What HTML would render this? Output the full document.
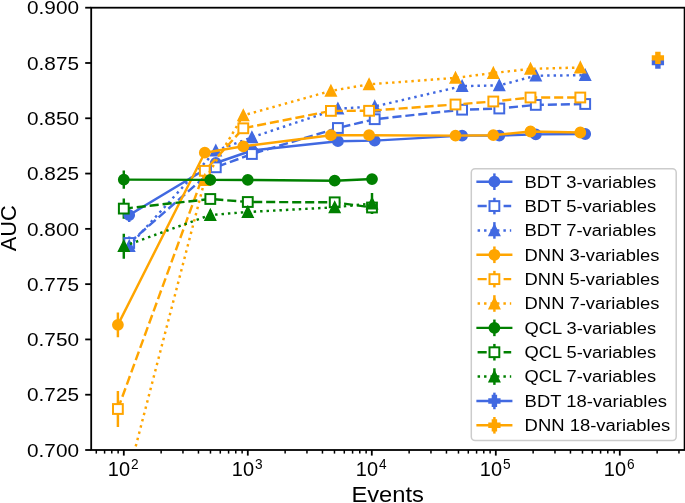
<!DOCTYPE html><html><head><meta charset="utf-8"><style>html,body{margin:0;padding:0;background:#fff;width:685px;height:503px;overflow:hidden}</style></head><body><svg width="685" height="503" viewBox="0 0 685 503" style="display:block;will-change:transform">
<rect width="685" height="503" fill="#fff"/>
<defs><clipPath id="ax"><rect x="91.2" y="7.7" width="593.4" height="442.3"/></clipPath></defs>
<g clip-path="url(#ax)">
<line x1="129.20" y1="208.10" x2="129.20" y2="222.10" stroke="#4169e1" stroke-width="2.45"/>
<line x1="215.80" y1="161.00" x2="215.80" y2="165.00" stroke="#4169e1" stroke-width="2.45"/>
<line x1="251.90" y1="148.50" x2="251.90" y2="152.50" stroke="#4169e1" stroke-width="2.45"/>
<line x1="337.90" y1="139.70" x2="337.90" y2="142.70" stroke="#4169e1" stroke-width="2.45"/>
<line x1="374.70" y1="139.10" x2="374.70" y2="142.10" stroke="#4169e1" stroke-width="2.45"/>
<line x1="462.10" y1="134.60" x2="462.10" y2="136.60" stroke="#4169e1" stroke-width="2.45"/>
<line x1="499.30" y1="134.60" x2="499.30" y2="136.60" stroke="#4169e1" stroke-width="2.45"/>
<line x1="535.80" y1="133.40" x2="535.80" y2="135.40" stroke="#4169e1" stroke-width="2.45"/>
<line x1="585.20" y1="133.00" x2="585.20" y2="135.00" stroke="#4169e1" stroke-width="2.45"/>
<line x1="129.20" y1="236.40" x2="129.20" y2="249.60" stroke="#4169e1" stroke-width="2.45"/>
<line x1="215.80" y1="165.30" x2="215.80" y2="169.30" stroke="#4169e1" stroke-width="2.45"/>
<line x1="251.90" y1="152.00" x2="251.90" y2="156.00" stroke="#4169e1" stroke-width="2.45"/>
<line x1="337.90" y1="126.50" x2="337.90" y2="129.50" stroke="#4169e1" stroke-width="2.45"/>
<line x1="374.70" y1="117.70" x2="374.70" y2="120.70" stroke="#4169e1" stroke-width="2.45"/>
<line x1="462.10" y1="108.70" x2="462.10" y2="110.70" stroke="#4169e1" stroke-width="2.45"/>
<line x1="499.30" y1="107.50" x2="499.30" y2="109.50" stroke="#4169e1" stroke-width="2.45"/>
<line x1="535.80" y1="103.90" x2="535.80" y2="105.90" stroke="#4169e1" stroke-width="2.45"/>
<line x1="585.20" y1="103.00" x2="585.20" y2="105.00" stroke="#4169e1" stroke-width="2.45"/>
<line x1="129.20" y1="240.00" x2="129.20" y2="252.00" stroke="#4169e1" stroke-width="2.45"/>
<line x1="215.80" y1="148.70" x2="215.80" y2="152.70" stroke="#4169e1" stroke-width="2.45"/>
<line x1="251.90" y1="135.30" x2="251.90" y2="139.30" stroke="#4169e1" stroke-width="2.45"/>
<line x1="337.90" y1="107.20" x2="337.90" y2="110.20" stroke="#4169e1" stroke-width="2.45"/>
<line x1="374.70" y1="105.00" x2="374.70" y2="108.00" stroke="#4169e1" stroke-width="2.45"/>
<line x1="462.10" y1="85.10" x2="462.10" y2="87.10" stroke="#4169e1" stroke-width="2.45"/>
<line x1="499.30" y1="84.40" x2="499.30" y2="86.40" stroke="#4169e1" stroke-width="2.45"/>
<line x1="535.80" y1="74.70" x2="535.80" y2="76.70" stroke="#4169e1" stroke-width="2.45"/>
<line x1="585.20" y1="74.20" x2="585.20" y2="76.20" stroke="#4169e1" stroke-width="2.45"/>
<line x1="117.90" y1="312.40" x2="117.90" y2="337.20" stroke="#ffa500" stroke-width="2.45"/>
<line x1="204.80" y1="150.70" x2="204.80" y2="154.70" stroke="#ffa500" stroke-width="2.45"/>
<line x1="243.30" y1="144.30" x2="243.30" y2="148.30" stroke="#ffa500" stroke-width="2.45"/>
<line x1="330.90" y1="133.70" x2="330.90" y2="136.70" stroke="#ffa500" stroke-width="2.45"/>
<line x1="369.10" y1="133.70" x2="369.10" y2="136.70" stroke="#ffa500" stroke-width="2.45"/>
<line x1="455.50" y1="134.60" x2="455.50" y2="136.60" stroke="#ffa500" stroke-width="2.45"/>
<line x1="493.30" y1="134.20" x2="493.30" y2="136.20" stroke="#ffa500" stroke-width="2.45"/>
<line x1="530.50" y1="130.50" x2="530.50" y2="132.50" stroke="#ffa500" stroke-width="2.45"/>
<line x1="580.30" y1="131.50" x2="580.30" y2="133.50" stroke="#ffa500" stroke-width="2.45"/>
<line x1="117.90" y1="391.00" x2="117.90" y2="427.00" stroke="#ffa500" stroke-width="2.45"/>
<line x1="204.80" y1="168.80" x2="204.80" y2="172.80" stroke="#ffa500" stroke-width="2.45"/>
<line x1="243.30" y1="126.30" x2="243.30" y2="130.30" stroke="#ffa500" stroke-width="2.45"/>
<line x1="330.90" y1="109.40" x2="330.90" y2="112.40" stroke="#ffa500" stroke-width="2.45"/>
<line x1="369.10" y1="109.30" x2="369.10" y2="112.30" stroke="#ffa500" stroke-width="2.45"/>
<line x1="455.50" y1="103.50" x2="455.50" y2="105.50" stroke="#ffa500" stroke-width="2.45"/>
<line x1="493.30" y1="100.50" x2="493.30" y2="102.50" stroke="#ffa500" stroke-width="2.45"/>
<line x1="530.50" y1="96.50" x2="530.50" y2="98.50" stroke="#ffa500" stroke-width="2.45"/>
<line x1="580.30" y1="96.50" x2="580.30" y2="98.50" stroke="#ffa500" stroke-width="2.45"/>
<line x1="117.90" y1="503.00" x2="117.90" y2="527.00" stroke="#ffa500" stroke-width="2.45"/>
<line x1="204.80" y1="178.00" x2="204.80" y2="182.00" stroke="#ffa500" stroke-width="2.45"/>
<line x1="243.30" y1="113.40" x2="243.30" y2="117.40" stroke="#ffa500" stroke-width="2.45"/>
<line x1="330.90" y1="89.40" x2="330.90" y2="92.40" stroke="#ffa500" stroke-width="2.45"/>
<line x1="369.10" y1="82.80" x2="369.10" y2="85.80" stroke="#ffa500" stroke-width="2.45"/>
<line x1="455.50" y1="76.90" x2="455.50" y2="78.90" stroke="#ffa500" stroke-width="2.45"/>
<line x1="493.30" y1="72.00" x2="493.30" y2="74.00" stroke="#ffa500" stroke-width="2.45"/>
<line x1="530.50" y1="67.90" x2="530.50" y2="69.90" stroke="#ffa500" stroke-width="2.45"/>
<line x1="580.30" y1="66.50" x2="580.30" y2="68.50" stroke="#ffa500" stroke-width="2.45"/>
<line x1="123.80" y1="170.50" x2="123.80" y2="188.70" stroke="#008000" stroke-width="2.45"/>
<line x1="210.30" y1="177.90" x2="210.30" y2="181.90" stroke="#008000" stroke-width="2.45"/>
<line x1="247.80" y1="177.90" x2="247.80" y2="181.90" stroke="#008000" stroke-width="2.45"/>
<line x1="334.70" y1="178.70" x2="334.70" y2="182.70" stroke="#008000" stroke-width="2.45"/>
<line x1="372.00" y1="177.10" x2="372.00" y2="181.10" stroke="#008000" stroke-width="2.45"/>
<line x1="123.80" y1="198.40" x2="123.80" y2="218.80" stroke="#008000" stroke-width="2.45"/>
<line x1="210.30" y1="196.00" x2="210.30" y2="202.00" stroke="#008000" stroke-width="2.45"/>
<line x1="247.80" y1="199.00" x2="247.80" y2="205.00" stroke="#008000" stroke-width="2.45"/>
<line x1="334.70" y1="199.30" x2="334.70" y2="205.30" stroke="#008000" stroke-width="2.45"/>
<line x1="372.00" y1="201.50" x2="372.00" y2="213.50" stroke="#008000" stroke-width="2.45"/>
<line x1="123.80" y1="233.70" x2="123.80" y2="258.70" stroke="#008000" stroke-width="2.45"/>
<line x1="210.30" y1="210.00" x2="210.30" y2="220.00" stroke="#008000" stroke-width="2.45"/>
<line x1="247.80" y1="206.00" x2="247.80" y2="218.00" stroke="#008000" stroke-width="2.45"/>
<line x1="334.70" y1="202.30" x2="334.70" y2="212.30" stroke="#008000" stroke-width="2.45"/>
<line x1="372.00" y1="193.00" x2="372.00" y2="214.00" stroke="#008000" stroke-width="2.45"/>
<line x1="657.90" y1="61.10" x2="657.90" y2="64.10" stroke="#4169e1" stroke-width="2.45"/>
<line x1="657.90" y1="56.40" x2="657.90" y2="59.40" stroke="#ffa500" stroke-width="2.45"/>
<polyline points="129.20,215.10 215.80,163.00 251.90,150.50 337.90,141.20 374.70,140.60 462.10,135.60 499.30,135.60 535.80,134.40 585.20,134.00" fill="none" stroke="#4169e1" stroke-width="2.45" stroke-linejoin="round" stroke-linecap="square"/>
<circle cx="129.20" cy="215.10" r="4.90" fill="#4169e1" stroke="#4169e1" stroke-width="2.0"/>
<circle cx="215.80" cy="163.00" r="4.90" fill="#4169e1" stroke="#4169e1" stroke-width="2.0"/>
<circle cx="251.90" cy="150.50" r="4.90" fill="#4169e1" stroke="#4169e1" stroke-width="2.0"/>
<circle cx="337.90" cy="141.20" r="4.90" fill="#4169e1" stroke="#4169e1" stroke-width="2.0"/>
<circle cx="374.70" cy="140.60" r="4.90" fill="#4169e1" stroke="#4169e1" stroke-width="2.0"/>
<circle cx="462.10" cy="135.60" r="4.90" fill="#4169e1" stroke="#4169e1" stroke-width="2.0"/>
<circle cx="499.30" cy="135.60" r="4.90" fill="#4169e1" stroke="#4169e1" stroke-width="2.0"/>
<circle cx="535.80" cy="134.40" r="4.90" fill="#4169e1" stroke="#4169e1" stroke-width="2.0"/>
<circle cx="585.20" cy="134.00" r="4.90" fill="#4169e1" stroke="#4169e1" stroke-width="2.0"/>
<polyline points="129.20,243.00 215.80,167.30 251.90,154.00 337.90,128.00 374.70,119.20 462.10,109.70 499.30,108.50 535.80,104.90 585.20,104.00" fill="none" stroke="#4169e1" stroke-width="2.45" stroke-linejoin="round" stroke-dasharray="9.1,3.9" stroke-linecap="butt"/>
<rect x="124.30" y="238.10" width="9.80" height="9.80" fill="#fff" stroke="#4169e1" stroke-width="2.0"/>
<rect x="210.90" y="162.40" width="9.80" height="9.80" fill="#fff" stroke="#4169e1" stroke-width="2.0"/>
<rect x="247.00" y="149.10" width="9.80" height="9.80" fill="#fff" stroke="#4169e1" stroke-width="2.0"/>
<rect x="333.00" y="123.10" width="9.80" height="9.80" fill="#fff" stroke="#4169e1" stroke-width="2.0"/>
<rect x="369.80" y="114.30" width="9.80" height="9.80" fill="#fff" stroke="#4169e1" stroke-width="2.0"/>
<rect x="457.20" y="104.80" width="9.80" height="9.80" fill="#fff" stroke="#4169e1" stroke-width="2.0"/>
<rect x="494.40" y="103.60" width="9.80" height="9.80" fill="#fff" stroke="#4169e1" stroke-width="2.0"/>
<rect x="530.90" y="100.00" width="9.80" height="9.80" fill="#fff" stroke="#4169e1" stroke-width="2.0"/>
<rect x="580.30" y="99.10" width="9.80" height="9.80" fill="#fff" stroke="#4169e1" stroke-width="2.0"/>
<polyline points="129.20,246.00 215.80,150.70 251.90,137.30 337.90,108.70 374.70,106.50 462.10,86.10 499.30,85.40 535.80,75.70 585.20,75.20" fill="none" stroke="#4169e1" stroke-width="2.45" stroke-linejoin="round" stroke-dasharray="2.45,4.0" stroke-linecap="butt"/>
<path d="M129.20,241.10L124.30,250.90L134.10,250.90Z" fill="#4169e1" stroke="#4169e1" stroke-width="2.0" stroke-linejoin="miter"/>
<path d="M215.80,145.80L210.90,155.60L220.70,155.60Z" fill="#4169e1" stroke="#4169e1" stroke-width="2.0" stroke-linejoin="miter"/>
<path d="M251.90,132.40L247.00,142.20L256.80,142.20Z" fill="#4169e1" stroke="#4169e1" stroke-width="2.0" stroke-linejoin="miter"/>
<path d="M337.90,103.80L333.00,113.60L342.80,113.60Z" fill="#4169e1" stroke="#4169e1" stroke-width="2.0" stroke-linejoin="miter"/>
<path d="M374.70,101.60L369.80,111.40L379.60,111.40Z" fill="#4169e1" stroke="#4169e1" stroke-width="2.0" stroke-linejoin="miter"/>
<path d="M462.10,81.20L457.20,91.00L467.00,91.00Z" fill="#4169e1" stroke="#4169e1" stroke-width="2.0" stroke-linejoin="miter"/>
<path d="M499.30,80.50L494.40,90.30L504.20,90.30Z" fill="#4169e1" stroke="#4169e1" stroke-width="2.0" stroke-linejoin="miter"/>
<path d="M535.80,70.80L530.90,80.60L540.70,80.60Z" fill="#4169e1" stroke="#4169e1" stroke-width="2.0" stroke-linejoin="miter"/>
<path d="M585.20,70.30L580.30,80.10L590.10,80.10Z" fill="#4169e1" stroke="#4169e1" stroke-width="2.0" stroke-linejoin="miter"/>
<polyline points="117.90,324.80 204.80,152.70 243.30,146.30 330.90,135.20 369.10,135.20 455.50,135.60 493.30,135.20 530.50,131.50 580.30,132.50" fill="none" stroke="#ffa500" stroke-width="2.45" stroke-linejoin="round" stroke-linecap="square"/>
<circle cx="117.90" cy="324.80" r="4.90" fill="#ffa500" stroke="#ffa500" stroke-width="2.0"/>
<circle cx="204.80" cy="152.70" r="4.90" fill="#ffa500" stroke="#ffa500" stroke-width="2.0"/>
<circle cx="243.30" cy="146.30" r="4.90" fill="#ffa500" stroke="#ffa500" stroke-width="2.0"/>
<circle cx="330.90" cy="135.20" r="4.90" fill="#ffa500" stroke="#ffa500" stroke-width="2.0"/>
<circle cx="369.10" cy="135.20" r="4.90" fill="#ffa500" stroke="#ffa500" stroke-width="2.0"/>
<circle cx="455.50" cy="135.60" r="4.90" fill="#ffa500" stroke="#ffa500" stroke-width="2.0"/>
<circle cx="493.30" cy="135.20" r="4.90" fill="#ffa500" stroke="#ffa500" stroke-width="2.0"/>
<circle cx="530.50" cy="131.50" r="4.90" fill="#ffa500" stroke="#ffa500" stroke-width="2.0"/>
<circle cx="580.30" cy="132.50" r="4.90" fill="#ffa500" stroke="#ffa500" stroke-width="2.0"/>
<polyline points="117.90,409.00 204.80,170.80 243.30,128.30 330.90,110.90 369.10,110.80 455.50,104.50 493.30,101.50 530.50,97.50 580.30,97.50" fill="none" stroke="#ffa500" stroke-width="2.45" stroke-linejoin="round" stroke-dasharray="9.1,3.9" stroke-linecap="butt"/>
<rect x="113.00" y="404.10" width="9.80" height="9.80" fill="#fff" stroke="#ffa500" stroke-width="2.0"/>
<rect x="199.90" y="165.90" width="9.80" height="9.80" fill="#fff" stroke="#ffa500" stroke-width="2.0"/>
<rect x="238.40" y="123.40" width="9.80" height="9.80" fill="#fff" stroke="#ffa500" stroke-width="2.0"/>
<rect x="326.00" y="106.00" width="9.80" height="9.80" fill="#fff" stroke="#ffa500" stroke-width="2.0"/>
<rect x="364.20" y="105.90" width="9.80" height="9.80" fill="#fff" stroke="#ffa500" stroke-width="2.0"/>
<rect x="450.60" y="99.60" width="9.80" height="9.80" fill="#fff" stroke="#ffa500" stroke-width="2.0"/>
<rect x="488.40" y="96.60" width="9.80" height="9.80" fill="#fff" stroke="#ffa500" stroke-width="2.0"/>
<rect x="525.60" y="92.60" width="9.80" height="9.80" fill="#fff" stroke="#ffa500" stroke-width="2.0"/>
<rect x="575.40" y="92.60" width="9.80" height="9.80" fill="#fff" stroke="#ffa500" stroke-width="2.0"/>
<polyline points="117.90,515.00 204.80,180.00 243.30,115.40 330.90,90.90 369.10,84.30 455.50,77.90 493.30,73.00 530.50,68.90 580.30,67.50" fill="none" stroke="#ffa500" stroke-width="2.45" stroke-linejoin="round" stroke-dasharray="2.45,4.0" stroke-linecap="butt"/>
<path d="M117.90,510.10L113.00,519.90L122.80,519.90Z" fill="#ffa500" stroke="#ffa500" stroke-width="2.0" stroke-linejoin="miter"/>
<path d="M204.80,175.10L199.90,184.90L209.70,184.90Z" fill="#ffa500" stroke="#ffa500" stroke-width="2.0" stroke-linejoin="miter"/>
<path d="M243.30,110.50L238.40,120.30L248.20,120.30Z" fill="#ffa500" stroke="#ffa500" stroke-width="2.0" stroke-linejoin="miter"/>
<path d="M330.90,86.00L326.00,95.80L335.80,95.80Z" fill="#ffa500" stroke="#ffa500" stroke-width="2.0" stroke-linejoin="miter"/>
<path d="M369.10,79.40L364.20,89.20L374.00,89.20Z" fill="#ffa500" stroke="#ffa500" stroke-width="2.0" stroke-linejoin="miter"/>
<path d="M455.50,73.00L450.60,82.80L460.40,82.80Z" fill="#ffa500" stroke="#ffa500" stroke-width="2.0" stroke-linejoin="miter"/>
<path d="M493.30,68.10L488.40,77.90L498.20,77.90Z" fill="#ffa500" stroke="#ffa500" stroke-width="2.0" stroke-linejoin="miter"/>
<path d="M530.50,64.00L525.60,73.80L535.40,73.80Z" fill="#ffa500" stroke="#ffa500" stroke-width="2.0" stroke-linejoin="miter"/>
<path d="M580.30,62.60L575.40,72.40L585.20,72.40Z" fill="#ffa500" stroke="#ffa500" stroke-width="2.0" stroke-linejoin="miter"/>
<polyline points="123.80,179.60 210.30,179.90 247.80,179.90 334.70,180.70 372.00,179.10" fill="none" stroke="#008000" stroke-width="2.45" stroke-linejoin="round" stroke-linecap="square"/>
<circle cx="123.80" cy="179.60" r="4.90" fill="#008000" stroke="#008000" stroke-width="2.0"/>
<circle cx="210.30" cy="179.90" r="4.90" fill="#008000" stroke="#008000" stroke-width="2.0"/>
<circle cx="247.80" cy="179.90" r="4.90" fill="#008000" stroke="#008000" stroke-width="2.0"/>
<circle cx="334.70" cy="180.70" r="4.90" fill="#008000" stroke="#008000" stroke-width="2.0"/>
<circle cx="372.00" cy="179.10" r="4.90" fill="#008000" stroke="#008000" stroke-width="2.0"/>
<polyline points="123.80,208.60 210.30,199.00 247.80,202.00 334.70,202.30 372.00,207.50" fill="none" stroke="#008000" stroke-width="2.45" stroke-linejoin="round" stroke-dasharray="9.1,3.9" stroke-linecap="butt"/>
<rect x="118.90" y="203.70" width="9.80" height="9.80" fill="#fff" stroke="#008000" stroke-width="2.0"/>
<rect x="205.40" y="194.10" width="9.80" height="9.80" fill="#fff" stroke="#008000" stroke-width="2.0"/>
<rect x="242.90" y="197.10" width="9.80" height="9.80" fill="#fff" stroke="#008000" stroke-width="2.0"/>
<rect x="329.80" y="197.40" width="9.80" height="9.80" fill="#fff" stroke="#008000" stroke-width="2.0"/>
<rect x="367.10" y="202.60" width="9.80" height="9.80" fill="#fff" stroke="#008000" stroke-width="2.0"/>
<polyline points="123.80,246.20 210.30,215.00 247.80,212.00 334.70,207.30 372.00,203.50" fill="none" stroke="#008000" stroke-width="2.45" stroke-linejoin="round" stroke-dasharray="2.45,4.0" stroke-linecap="butt"/>
<path d="M123.80,241.30L118.90,251.10L128.70,251.10Z" fill="#008000" stroke="#008000" stroke-width="2.0" stroke-linejoin="miter"/>
<path d="M210.30,210.10L205.40,219.90L215.20,219.90Z" fill="#008000" stroke="#008000" stroke-width="2.0" stroke-linejoin="miter"/>
<path d="M247.80,207.10L242.90,216.90L252.70,216.90Z" fill="#008000" stroke="#008000" stroke-width="2.0" stroke-linejoin="miter"/>
<path d="M334.70,202.40L329.80,212.20L339.60,212.20Z" fill="#008000" stroke="#008000" stroke-width="2.0" stroke-linejoin="miter"/>
<path d="M372.00,198.60L367.10,208.40L376.90,208.40Z" fill="#008000" stroke="#008000" stroke-width="2.0" stroke-linejoin="miter"/>
<path d="M656.18,57.45L659.62,57.45L659.62,60.88L663.05,60.88L663.05,64.32L659.62,64.32L659.62,67.75L656.18,67.75L656.18,64.32L652.75,64.32L652.75,60.88L656.18,60.88Z" fill="#4169e1" stroke="#4169e1" stroke-width="2.0"/>
<path d="M656.18,52.75L659.62,52.75L659.62,56.18L663.05,56.18L663.05,59.62L659.62,59.62L659.62,63.05L656.18,63.05L656.18,59.62L652.75,59.62L652.75,56.18L656.18,56.18Z" fill="#ffa500" stroke="#ffa500" stroke-width="2.0"/>
</g>
<rect x="91.2" y="7.7" width="593.4" height="442.3" fill="none" stroke="#000" stroke-width="1.8"/>
<line x1="123.80" y1="450.00" x2="123.80" y2="455.60" stroke="#000" stroke-width="1.8"/>
<line x1="247.80" y1="450.00" x2="247.80" y2="455.60" stroke="#000" stroke-width="1.8"/>
<line x1="371.80" y1="450.00" x2="371.80" y2="455.60" stroke="#000" stroke-width="1.8"/>
<line x1="495.80" y1="450.00" x2="495.80" y2="455.60" stroke="#000" stroke-width="1.8"/>
<line x1="619.80" y1="450.00" x2="619.80" y2="455.60" stroke="#000" stroke-width="1.8"/>
<line x1="96.29" y1="450.00" x2="96.29" y2="453.60" stroke="#000" stroke-width="1.5"/>
<line x1="104.59" y1="450.00" x2="104.59" y2="453.60" stroke="#000" stroke-width="1.5"/>
<line x1="111.78" y1="450.00" x2="111.78" y2="453.60" stroke="#000" stroke-width="1.5"/>
<line x1="118.13" y1="450.00" x2="118.13" y2="453.60" stroke="#000" stroke-width="1.5"/>
<line x1="161.13" y1="450.00" x2="161.13" y2="453.60" stroke="#000" stroke-width="1.5"/>
<line x1="182.96" y1="450.00" x2="182.96" y2="453.60" stroke="#000" stroke-width="1.5"/>
<line x1="198.46" y1="450.00" x2="198.46" y2="453.60" stroke="#000" stroke-width="1.5"/>
<line x1="210.47" y1="450.00" x2="210.47" y2="453.60" stroke="#000" stroke-width="1.5"/>
<line x1="220.29" y1="450.00" x2="220.29" y2="453.60" stroke="#000" stroke-width="1.5"/>
<line x1="228.59" y1="450.00" x2="228.59" y2="453.60" stroke="#000" stroke-width="1.5"/>
<line x1="235.78" y1="450.00" x2="235.78" y2="453.60" stroke="#000" stroke-width="1.5"/>
<line x1="242.13" y1="450.00" x2="242.13" y2="453.60" stroke="#000" stroke-width="1.5"/>
<line x1="285.13" y1="450.00" x2="285.13" y2="453.60" stroke="#000" stroke-width="1.5"/>
<line x1="306.96" y1="450.00" x2="306.96" y2="453.60" stroke="#000" stroke-width="1.5"/>
<line x1="322.46" y1="450.00" x2="322.46" y2="453.60" stroke="#000" stroke-width="1.5"/>
<line x1="334.47" y1="450.00" x2="334.47" y2="453.60" stroke="#000" stroke-width="1.5"/>
<line x1="344.29" y1="450.00" x2="344.29" y2="453.60" stroke="#000" stroke-width="1.5"/>
<line x1="352.59" y1="450.00" x2="352.59" y2="453.60" stroke="#000" stroke-width="1.5"/>
<line x1="359.78" y1="450.00" x2="359.78" y2="453.60" stroke="#000" stroke-width="1.5"/>
<line x1="366.13" y1="450.00" x2="366.13" y2="453.60" stroke="#000" stroke-width="1.5"/>
<line x1="409.13" y1="450.00" x2="409.13" y2="453.60" stroke="#000" stroke-width="1.5"/>
<line x1="430.96" y1="450.00" x2="430.96" y2="453.60" stroke="#000" stroke-width="1.5"/>
<line x1="446.46" y1="450.00" x2="446.46" y2="453.60" stroke="#000" stroke-width="1.5"/>
<line x1="458.47" y1="450.00" x2="458.47" y2="453.60" stroke="#000" stroke-width="1.5"/>
<line x1="468.29" y1="450.00" x2="468.29" y2="453.60" stroke="#000" stroke-width="1.5"/>
<line x1="476.59" y1="450.00" x2="476.59" y2="453.60" stroke="#000" stroke-width="1.5"/>
<line x1="483.78" y1="450.00" x2="483.78" y2="453.60" stroke="#000" stroke-width="1.5"/>
<line x1="490.13" y1="450.00" x2="490.13" y2="453.60" stroke="#000" stroke-width="1.5"/>
<line x1="533.13" y1="450.00" x2="533.13" y2="453.60" stroke="#000" stroke-width="1.5"/>
<line x1="554.96" y1="450.00" x2="554.96" y2="453.60" stroke="#000" stroke-width="1.5"/>
<line x1="570.46" y1="450.00" x2="570.46" y2="453.60" stroke="#000" stroke-width="1.5"/>
<line x1="582.47" y1="450.00" x2="582.47" y2="453.60" stroke="#000" stroke-width="1.5"/>
<line x1="592.29" y1="450.00" x2="592.29" y2="453.60" stroke="#000" stroke-width="1.5"/>
<line x1="600.59" y1="450.00" x2="600.59" y2="453.60" stroke="#000" stroke-width="1.5"/>
<line x1="607.78" y1="450.00" x2="607.78" y2="453.60" stroke="#000" stroke-width="1.5"/>
<line x1="614.13" y1="450.00" x2="614.13" y2="453.60" stroke="#000" stroke-width="1.5"/>
<line x1="657.13" y1="450.00" x2="657.13" y2="453.60" stroke="#000" stroke-width="1.5"/>
<line x1="678.96" y1="450.00" x2="678.96" y2="453.60" stroke="#000" stroke-width="1.5"/>
<text x="107.80" y="475.6" font-family="Liberation Sans, sans-serif" font-size="19.8" textLength="22.2" lengthAdjust="spacingAndGlyphs">10</text>
<text x="131.00" y="468.9" font-family="Liberation Sans, sans-serif" font-size="14.2" textLength="7.6" lengthAdjust="spacingAndGlyphs">2</text>
<text x="231.80" y="475.6" font-family="Liberation Sans, sans-serif" font-size="19.8" textLength="22.2" lengthAdjust="spacingAndGlyphs">10</text>
<text x="255.00" y="468.9" font-family="Liberation Sans, sans-serif" font-size="14.2" textLength="7.6" lengthAdjust="spacingAndGlyphs">3</text>
<text x="355.80" y="475.6" font-family="Liberation Sans, sans-serif" font-size="19.8" textLength="22.2" lengthAdjust="spacingAndGlyphs">10</text>
<text x="379.00" y="468.9" font-family="Liberation Sans, sans-serif" font-size="14.2" textLength="7.6" lengthAdjust="spacingAndGlyphs">4</text>
<text x="479.80" y="475.6" font-family="Liberation Sans, sans-serif" font-size="19.8" textLength="22.2" lengthAdjust="spacingAndGlyphs">10</text>
<text x="503.00" y="468.9" font-family="Liberation Sans, sans-serif" font-size="14.2" textLength="7.6" lengthAdjust="spacingAndGlyphs">5</text>
<text x="603.80" y="475.6" font-family="Liberation Sans, sans-serif" font-size="19.8" textLength="22.2" lengthAdjust="spacingAndGlyphs">10</text>
<text x="627.00" y="468.9" font-family="Liberation Sans, sans-serif" font-size="14.2" textLength="7.6" lengthAdjust="spacingAndGlyphs">6</text>
<line x1="85.20" y1="7.70" x2="91.20" y2="7.70" stroke="#000" stroke-width="1.8"/>
<text x="27.0" y="14.40" font-family="Liberation Sans, sans-serif" font-size="18.6" textLength="52.0" lengthAdjust="spacingAndGlyphs">0.900</text>
<line x1="85.20" y1="62.99" x2="91.20" y2="62.99" stroke="#000" stroke-width="1.8"/>
<text x="27.0" y="69.69" font-family="Liberation Sans, sans-serif" font-size="18.6" textLength="52.0" lengthAdjust="spacingAndGlyphs">0.875</text>
<line x1="85.20" y1="118.28" x2="91.20" y2="118.28" stroke="#000" stroke-width="1.8"/>
<text x="27.0" y="124.98" font-family="Liberation Sans, sans-serif" font-size="18.6" textLength="52.0" lengthAdjust="spacingAndGlyphs">0.850</text>
<line x1="85.20" y1="173.56" x2="91.20" y2="173.56" stroke="#000" stroke-width="1.8"/>
<text x="27.0" y="180.26" font-family="Liberation Sans, sans-serif" font-size="18.6" textLength="52.0" lengthAdjust="spacingAndGlyphs">0.825</text>
<line x1="85.20" y1="228.85" x2="91.20" y2="228.85" stroke="#000" stroke-width="1.8"/>
<text x="27.0" y="235.55" font-family="Liberation Sans, sans-serif" font-size="18.6" textLength="52.0" lengthAdjust="spacingAndGlyphs">0.800</text>
<line x1="85.20" y1="284.14" x2="91.20" y2="284.14" stroke="#000" stroke-width="1.8"/>
<text x="27.0" y="290.84" font-family="Liberation Sans, sans-serif" font-size="18.6" textLength="52.0" lengthAdjust="spacingAndGlyphs">0.775</text>
<line x1="85.20" y1="339.43" x2="91.20" y2="339.43" stroke="#000" stroke-width="1.8"/>
<text x="27.0" y="346.13" font-family="Liberation Sans, sans-serif" font-size="18.6" textLength="52.0" lengthAdjust="spacingAndGlyphs">0.750</text>
<line x1="85.20" y1="394.71" x2="91.20" y2="394.71" stroke="#000" stroke-width="1.8"/>
<text x="27.0" y="401.41" font-family="Liberation Sans, sans-serif" font-size="18.6" textLength="52.0" lengthAdjust="spacingAndGlyphs">0.725</text>
<line x1="85.20" y1="450.00" x2="91.20" y2="450.00" stroke="#000" stroke-width="1.8"/>
<text x="27.0" y="456.70" font-family="Liberation Sans, sans-serif" font-size="18.6" textLength="52.0" lengthAdjust="spacingAndGlyphs">0.700</text>
<text x="351.4" y="502.3" font-family="Liberation Sans, sans-serif" font-size="21.6" textLength="72.6" lengthAdjust="spacingAndGlyphs">Events</text>
<text transform="translate(16.4,251.3) rotate(-90)" x="0" y="0" font-family="Liberation Sans, sans-serif" font-size="21.5" textLength="46.0" lengthAdjust="spacingAndGlyphs">AUC</text>
<rect x="471.3" y="168.7" width="204.90" height="271.90" rx="3.8" ry="3.8" fill="#fff" fill-opacity="0.8" stroke="#cccccc" stroke-width="1.5"/>
<line x1="477.6" y1="181.70" x2="511.2" y2="181.70" stroke="#4169e1" stroke-width="2.45" stroke-linecap="square"/>
<line x1="494.4" y1="173.40" x2="494.4" y2="190.00" stroke="#4169e1" stroke-width="2.45"/>
<circle cx="494.40" cy="181.70" r="4.90" fill="#4169e1" stroke="#4169e1" stroke-width="2.0"/>
<text x="524.6" y="187.60" font-family="Liberation Sans, sans-serif" font-size="15.8" textLength="131.6" lengthAdjust="spacingAndGlyphs">BDT 3-variables</text>
<line x1="477.6" y1="206.06" x2="511.2" y2="206.06" stroke="#4169e1" stroke-width="2.45" stroke-dasharray="9.1,3.9" stroke-linecap="butt"/>
<line x1="494.4" y1="197.76" x2="494.4" y2="214.36" stroke="#4169e1" stroke-width="2.45"/>
<rect x="489.50" y="201.16" width="9.80" height="9.80" fill="#fff" stroke="#4169e1" stroke-width="2.0"/>
<text x="524.6" y="211.96" font-family="Liberation Sans, sans-serif" font-size="15.8" textLength="131.6" lengthAdjust="spacingAndGlyphs">BDT 5-variables</text>
<line x1="477.6" y1="230.42" x2="511.2" y2="230.42" stroke="#4169e1" stroke-width="2.45" stroke-dasharray="2.45,4.0" stroke-linecap="butt"/>
<line x1="494.4" y1="222.12" x2="494.4" y2="238.72" stroke="#4169e1" stroke-width="2.45"/>
<path d="M494.40,225.52L489.50,235.32L499.30,235.32Z" fill="#4169e1" stroke="#4169e1" stroke-width="2.0" stroke-linejoin="miter"/>
<text x="524.6" y="236.32" font-family="Liberation Sans, sans-serif" font-size="15.8" textLength="131.6" lengthAdjust="spacingAndGlyphs">BDT 7-variables</text>
<line x1="477.6" y1="254.78" x2="511.2" y2="254.78" stroke="#ffa500" stroke-width="2.45" stroke-linecap="square"/>
<line x1="494.4" y1="246.48" x2="494.4" y2="263.08" stroke="#ffa500" stroke-width="2.45"/>
<circle cx="494.40" cy="254.78" r="4.90" fill="#ffa500" stroke="#ffa500" stroke-width="2.0"/>
<text x="524.6" y="260.68" font-family="Liberation Sans, sans-serif" font-size="15.8" textLength="134.79999999999998" lengthAdjust="spacingAndGlyphs">DNN 3-variables</text>
<line x1="477.6" y1="279.14" x2="511.2" y2="279.14" stroke="#ffa500" stroke-width="2.45" stroke-dasharray="9.1,3.9" stroke-linecap="butt"/>
<line x1="494.4" y1="270.84" x2="494.4" y2="287.44" stroke="#ffa500" stroke-width="2.45"/>
<rect x="489.50" y="274.24" width="9.80" height="9.80" fill="#fff" stroke="#ffa500" stroke-width="2.0"/>
<text x="524.6" y="285.04" font-family="Liberation Sans, sans-serif" font-size="15.8" textLength="134.79999999999998" lengthAdjust="spacingAndGlyphs">DNN 5-variables</text>
<line x1="477.6" y1="303.50" x2="511.2" y2="303.50" stroke="#ffa500" stroke-width="2.45" stroke-dasharray="2.45,4.0" stroke-linecap="butt"/>
<line x1="494.4" y1="295.20" x2="494.4" y2="311.80" stroke="#ffa500" stroke-width="2.45"/>
<path d="M494.40,298.60L489.50,308.40L499.30,308.40Z" fill="#ffa500" stroke="#ffa500" stroke-width="2.0" stroke-linejoin="miter"/>
<text x="524.6" y="309.40" font-family="Liberation Sans, sans-serif" font-size="15.8" textLength="134.79999999999998" lengthAdjust="spacingAndGlyphs">DNN 7-variables</text>
<line x1="477.6" y1="327.86" x2="511.2" y2="327.86" stroke="#008000" stroke-width="2.45" stroke-linecap="square"/>
<line x1="494.4" y1="319.56" x2="494.4" y2="336.16" stroke="#008000" stroke-width="2.45"/>
<circle cx="494.40" cy="327.86" r="4.90" fill="#008000" stroke="#008000" stroke-width="2.0"/>
<text x="524.6" y="333.76" font-family="Liberation Sans, sans-serif" font-size="15.8" textLength="131.5" lengthAdjust="spacingAndGlyphs">QCL 3-variables</text>
<line x1="477.6" y1="352.22" x2="511.2" y2="352.22" stroke="#008000" stroke-width="2.45" stroke-dasharray="9.1,3.9" stroke-linecap="butt"/>
<line x1="494.4" y1="343.92" x2="494.4" y2="360.52" stroke="#008000" stroke-width="2.45"/>
<rect x="489.50" y="347.32" width="9.80" height="9.80" fill="#fff" stroke="#008000" stroke-width="2.0"/>
<text x="524.6" y="358.12" font-family="Liberation Sans, sans-serif" font-size="15.8" textLength="131.5" lengthAdjust="spacingAndGlyphs">QCL 5-variables</text>
<line x1="477.6" y1="376.58" x2="511.2" y2="376.58" stroke="#008000" stroke-width="2.45" stroke-dasharray="2.45,4.0" stroke-linecap="butt"/>
<line x1="494.4" y1="368.28" x2="494.4" y2="384.88" stroke="#008000" stroke-width="2.45"/>
<path d="M494.40,371.68L489.50,381.48L499.30,381.48Z" fill="#008000" stroke="#008000" stroke-width="2.0" stroke-linejoin="miter"/>
<text x="524.6" y="382.48" font-family="Liberation Sans, sans-serif" font-size="15.8" textLength="131.5" lengthAdjust="spacingAndGlyphs">QCL 7-variables</text>
<line x1="477.6" y1="400.94" x2="511.2" y2="400.94" stroke="#4169e1" stroke-width="2.45" stroke-linecap="square"/>
<line x1="494.4" y1="392.64" x2="494.4" y2="409.24" stroke="#4169e1" stroke-width="2.45"/>
<path d="M492.68,395.79L496.12,395.79L496.12,399.22L499.55,399.22L499.55,402.66L496.12,402.66L496.12,406.09L492.68,406.09L492.68,402.66L489.25,402.66L489.25,399.22L492.68,399.22Z" fill="#4169e1" stroke="#4169e1" stroke-width="2.0"/>
<text x="524.6" y="406.84" font-family="Liberation Sans, sans-serif" font-size="15.8" textLength="142.29999999999998" lengthAdjust="spacingAndGlyphs">BDT 18-variables</text>
<line x1="477.6" y1="425.30" x2="511.2" y2="425.30" stroke="#ffa500" stroke-width="2.45" stroke-linecap="square"/>
<line x1="494.4" y1="417.00" x2="494.4" y2="433.60" stroke="#ffa500" stroke-width="2.45"/>
<path d="M492.68,420.15L496.12,420.15L496.12,423.58L499.55,423.58L499.55,427.02L496.12,427.02L496.12,430.45L492.68,430.45L492.68,427.02L489.25,427.02L489.25,423.58L492.68,423.58Z" fill="#ffa500" stroke="#ffa500" stroke-width="2.0"/>
<text x="524.6" y="431.20" font-family="Liberation Sans, sans-serif" font-size="15.8" textLength="145.6" lengthAdjust="spacingAndGlyphs">DNN 18-variables</text>
</svg></body></html>
